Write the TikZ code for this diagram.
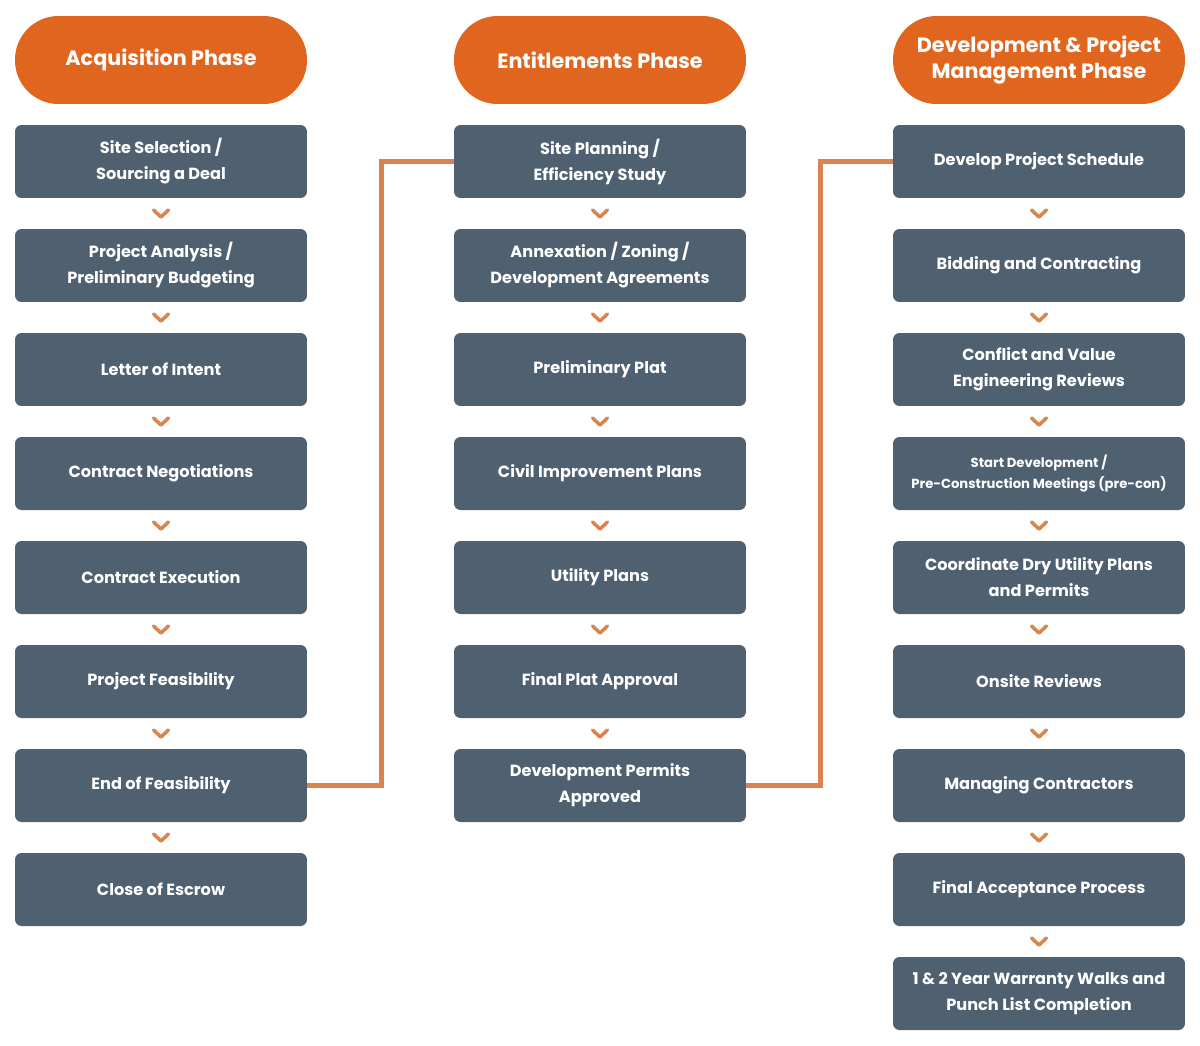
\documentclass[tikz,border=0pt]{standalone}
\usepackage{fontspec}
\setmainfont{Poppins}
\usetikzlibrary{calc}

\definecolor{phaseorange}{HTML}{E0661F}
\definecolor{linkorange}{HTML}{D9844F}
\definecolor{stepgrey}{HTML}{4F6070}

\tikzset{
  phasebox/.style={fill=phaseorange, rounded corners=0.87cm, minimum width=5.84cm,
    minimum height=1.76cm, text=white, align=center, font=\bfseries\fontsize{11.8}{14.5}\selectfont},
  stepbox/.style={fill=stepgrey, rounded corners=0.13cm, minimum width=5.84cm,
    minimum height=1.46cm, text=white, align=center, font=\bfseries\fontsize{9.2}{14.8}\selectfont},
  chev/.style={draw=linkorange, line width=2pt, line cap=round, line join=round},
  link/.style={draw=linkorange, line width=2.8pt}
}

\begin{document}
\begin{tikzpicture}[x=0.02cm, y=-0.02cm]
            \useasboundingbox (0,0) rectangle (1200,1045);

            % phase headers
            \node[phasebox] (ha) at (161, 60) {Acquisition Phase};
            \node[phasebox] (he) at (600, 60) {Entitlements Phase};
            \node[phasebox] (hd) at (1039, 60) {Development \& Project\\Management Phase};

            % acquisition
            \node[stepbox] (a1) at (161, 161.5) {Site Selection /\\Sourcing a Deal};
            \node[stepbox] (a2) at (161, 265.5) {Project Analysis /\\Preliminary Budgeting};
            \node[stepbox] (a3) at (161, 369.5) {Letter of Intent};
            \node[stepbox] (a4) at (161, 473.5) {Contract Negotiations};
            \node[stepbox] (a5) at (161, 577.5) {Contract Execution};
            \node[stepbox] (a6) at (161, 681.5) {Project Feasibility};
            \node[stepbox] (a7) at (161, 785.5) {End of Feasibility};
            \node[stepbox] (a8) at (161, 889.5) {Close of Escrow};

            % entitlements
            \node[stepbox] (e1) at (600, 161.5) {Site Planning /\\Efficiency Study};
            \node[stepbox] (e2) at (600, 265.5) {Annexation / Zoning /\\Development Agreements};
            \node[stepbox] (e3) at (600, 369.5) {Preliminary Plat};
            \node[stepbox] (e4) at (600, 473.5) {Civil Improvement Plans};
            \node[stepbox] (e5) at (600, 577.5) {Utility Plans};
            \node[stepbox] (e6) at (600, 681.5) {Final Plat Approval};
            \node[stepbox] (e7) at (600, 785.5) {Development Permits\\Approved};

            % development and project management
            \node[stepbox] (d1) at (1039, 161.5) {Develop Project Schedule};
            \node[stepbox] (d2) at (1039, 265.5) {Bidding and Contracting};
            \node[stepbox] (d3) at (1039, 369.5) {Conflict and Value\\Engineering Reviews};
            \node[stepbox, font=\bfseries\fontsize{7.5}{12}\selectfont] (d4) at (1039, 473.5) {Start Development /\\Pre-Construction Meetings (pre-con)};
            \node[stepbox] (d5) at (1039, 577.5) {Coordinate Dry Utility Plans\\and Permits};
            \node[stepbox] (d6) at (1039, 681.5) {Onsite Reviews};
            \node[stepbox] (d7) at (1039, 785.5) {Managing Contractors};
            \node[stepbox] (d8) at (1039, 889.5) {Final Acceptance Process};
            \node[stepbox] (d9) at (1039, 993.5) {1 \& 2 Year Warranty Walks and\\Punch List Completion};

            % chevrons between steps
            \foreach \col/\n in {a/7, e/6, d/8} {
              \foreach \i [evaluate=\i as \j using int(\i+1)] in {1,...,\n} {
                \draw[chev] ($(\col\i.south)!0.5!(\col\j.north)$) +(-7.5,-3.5) -- +(0,3.5) -- +(7.5,-3.5);
              }
            }

            % links between phases
            \draw[link] (a7.east) -- ++(74,0) |- (e1.west);
            \draw[link] (e7.east) -- ++(74,0) |- (d1.west);
\end{tikzpicture}
\end{document}
